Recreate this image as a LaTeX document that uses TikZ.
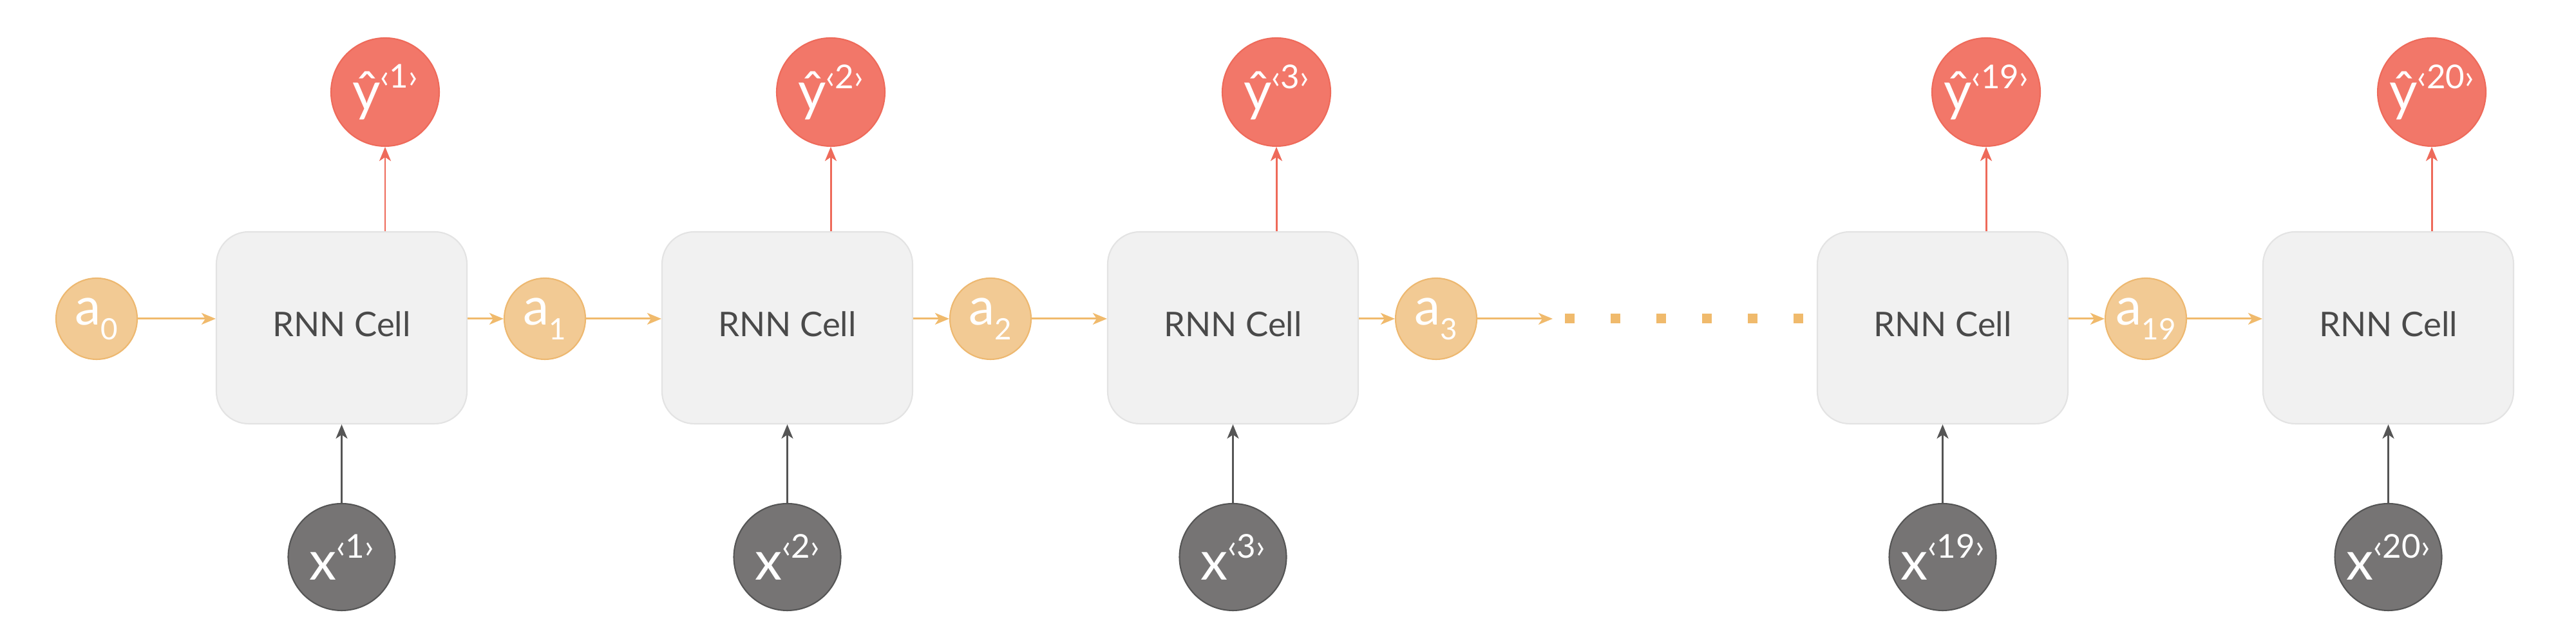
\documentclass[tikz,border=0pt]{standalone}
\usepackage{fontspec}
\setmainfont{Lato}
\usetikzlibrary{arrows.meta,positioning,calc}

\definecolor{hidfill}{HTML}{F2CA94}
\definecolor{hidborder}{HTML}{EDB870}
\definecolor{hidarrow}{HTML}{F0BA6C}
\definecolor{outfill}{HTML}{F27769}
\definecolor{outborder}{HTML}{EE6A5A}
\definecolor{infill}{HTML}{767474}
\definecolor{inborder}{HTML}{555555}
\definecolor{cellfill}{HTML}{F1F1F1}
\definecolor{cellborder}{HTML}{E3E3E3}
\definecolor{celltext}{HTML}{4A4A4A}

\newcommand{\lowidx}[1]{\raisebox{-0.56ex}{\fontsize{13pt}{13pt}\selectfont #1}}
\newcommand{\upidx}[1]{\raisebox{0.8ex}{\fontsize{14.5pt}{14.5pt}\selectfont ‹#1›}}

\tikzset{
	cellbox/.style={draw=cellborder, fill=cellfill, line width=0.6pt, rounded corners=0.5cm,
		minimum width=3.89cm, minimum height=2.98cm, inner sep=0pt, text depth=0.12cm,
		text=celltext, font=\fontsize{15pt}{15pt}\selectfont},
	anode/.style={circle, draw=hidborder, fill=hidfill, line width=0.6pt, minimum size=1.26cm,
		inner sep=0pt, text=white, font=\fontsize{23pt}{23pt}\selectfont},
	ynode/.style={circle, draw=outborder, fill=outfill, line width=0.6pt, minimum size=1.68cm,
		inner sep=0pt, text=white, font=\fontsize{24pt}{24pt}\selectfont},
	xnode/.style={circle, draw=inborder, fill=infill, line width=0.6pt, minimum size=1.66cm,
		inner sep=0pt, text=white, font=\fontsize{24pt}{24pt}\selectfont},
	tip/.style={-{Stealth[length=0.22cm,width=0.18cm,inset=0.06cm]}, line width=0.85pt},
	hidarr/.style={tip, draw=hidarrow},
	outarr/.style={tip, draw=outborder},
	inarr/.style={tip, draw=inborder},
	dotrow/.style={draw=hidarrow, line width=0.15cm, dash pattern=on 0.15cm off 0.56cm}
}

\begin{document}
\begin{tikzpicture}
	\useasboundingbox (0,0) rectangle (40,10);

	% RNN cells
	\node[cellbox] (c1) at (5.305,4.91) {RNN Cell};
	\node[cellbox] (c2) at (12.225,4.91) {RNN Cell};
	\node[cellbox] (c3) at (19.145,4.91) {RNN Cell};
	\node[cellbox] (c19) at (30.165,4.91) {RNN Cell};
	\node[cellbox] (c20) at (37.085,4.91) {RNN Cell};

	% hidden states
	\node[anode] (a0) at (1.50,5.05) {a\lowidx{0}};
	\node[anode] (a1) at (8.46,5.05) {a\lowidx{1}};
	\node[anode] (a2) at (15.38,5.05) {a\lowidx{2}};
	\node[anode] (a3) at (22.30,5.05) {a\lowidx{3}};
	\node[anode] (a19) at (33.32,5.05) {a\lowidx{19}};

	% outputs
	\node[ynode] (y1) at (5.98,8.57) {ŷ\upidx{1}};
	\node[ynode] (y2) at (12.90,8.57) {ŷ\upidx{2}};
	\node[ynode] (y3) at (19.82,8.57) {ŷ\upidx{3}};
	\node[ynode] (y19) at (30.84,8.57) {ŷ\upidx{19}};
	\node[ynode] (y20) at (37.76,8.57) {ŷ\upidx{20}};

	% inputs
	\node[xnode] (x1) at (5.305,1.35) {x\upidx{1}};
	\node[xnode] (x2) at (12.225,1.35) {x\upidx{2}};
	\node[xnode] (x3) at (19.145,1.35) {x\upidx{3}};
	\node[xnode] (x19) at (30.165,1.35) {x\upidx{19}};
	\node[xnode] (x20) at (37.085,1.35) {x\upidx{20}};

	% gap between a3 and cell 19
	\coordinate (gapend) at (24.11,5.05);
	\coordinate (dotsL) at (24.30,5.05);
	\coordinate (dotsR) at (28.00,5.05);

	% hidden state flow
	\draw[hidarr] (a0) -- (c1.west |- a0);
	\draw[hidarr] (c1.east |- a1) -- (a1);
	\draw[hidarr] (a1) -- (c2.west |- a1);
	\draw[hidarr] (c2.east |- a2) -- (a2);
	\draw[hidarr] (a2) -- (c3.west |- a2);
	\draw[hidarr] (c3.east |- a3) -- (a3);
	\draw[hidarr] (a3) -- (gapend);
	\draw[dotrow] (dotsL) -- (dotsR);
	\draw[hidarr] (c19.east |- a19) -- (a19);
	\draw[hidarr] (a19) -- (c20.west |- a19);

	% cells to outputs
	\draw[outarr] (y1 |- c1.north) -- (y1.south);
	\draw[outarr] (y2 |- c2.north) -- (y2.south);
	\draw[outarr] (y3 |- c3.north) -- (y3.south);
	\draw[outarr] (y19 |- c19.north) -- (y19.south);
	\draw[outarr] (y20 |- c20.north) -- (y20.south);

	% inputs to cells
	\draw[inarr] (x1) -- (c1);
	\draw[inarr] (x2) -- (c2);
	\draw[inarr] (x3) -- (c3);
	\draw[inarr] (x19) -- (c19);
	\draw[inarr] (x20) -- (c20);
\end{tikzpicture}
\end{document}
